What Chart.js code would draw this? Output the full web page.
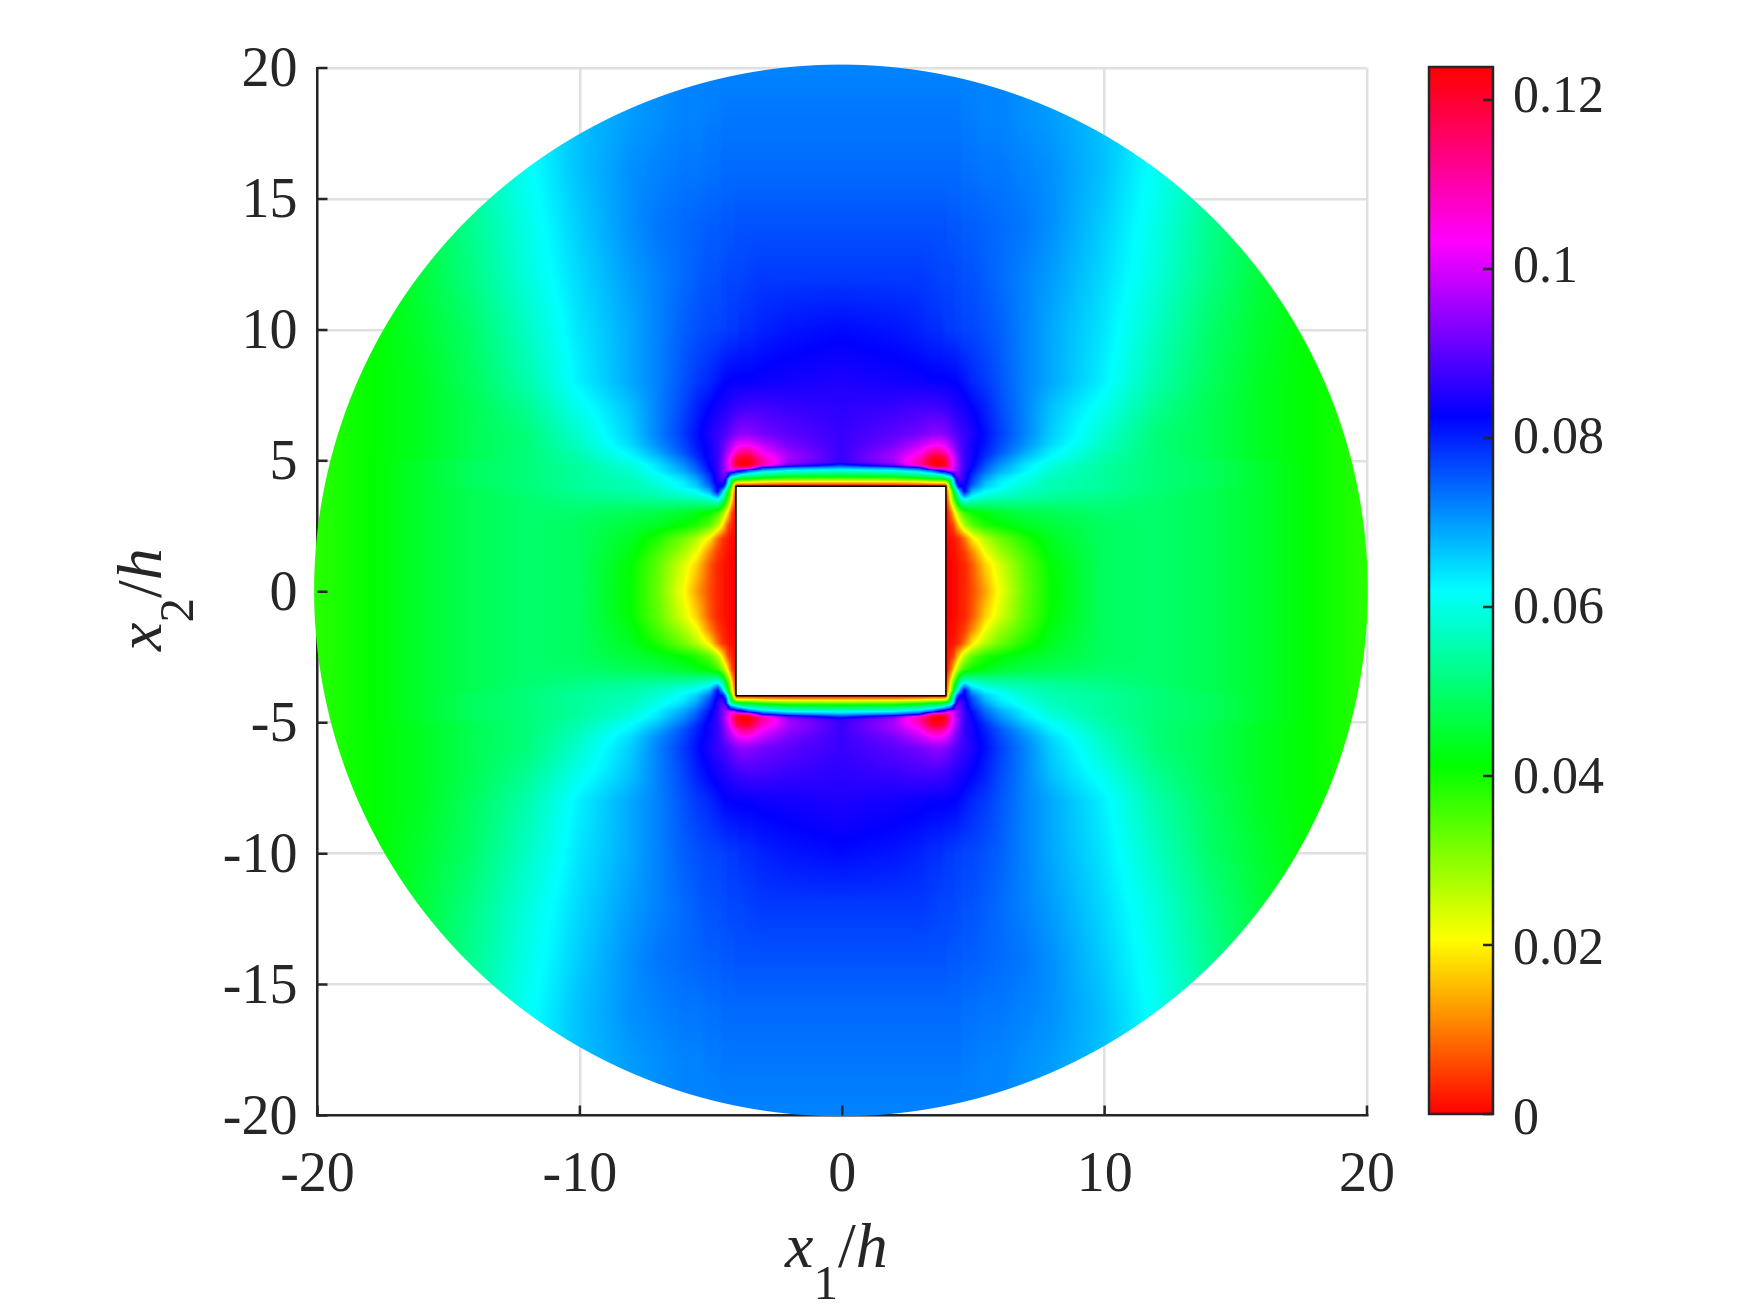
<!DOCTYPE html>
<html><head><meta charset="utf-8">
<script src="https://cdn.jsdelivr.net/npm/chart.js@4/dist/chart.umd.min.js"></script>
<style>
html,body{margin:0;padding:0;background:#fff;width:1750px;height:1313px;overflow:hidden}
canvas{position:absolute;top:0}
#main{left:0}#bar{left:1400px}
.lab{position:absolute;font-family:"Liberation Serif",serif;font-size:64px;color:#262626;white-space:nowrap;line-height:1}
.lab sub{font-style:normal;font-size:49px;vertical-align:-32px;line-height:0}
</style></head><body>
<canvas id="main" width="1750" height="1313"></canvas>
<canvas id="bar" width="350" height="1313"></canvas>
<div class="lab" id="xl" style="left:785px;top:1214px"><i>x</i><sub>1</sub>/<i>h</i></div>
<div class="lab" id="yl" style="left:108px;top:651px;transform-origin:0 0;transform:rotate(-90deg)"><i>x</i><sub>2</sub>/<i>h</i></div>
<script>
// Axis ticks
const xTicks=[-20,-10,0,10,20];
const yTicks=[-20,-15,-10,-5,0,5,10,15,20];
const barTicks=[0,0.02,0.04,0.06,0.08,0.1,0.12];
const barMax=0.1239;
// Square hole outline (x1/h, x2/h)
const holeX=[-4.05,3.95,3.95,-4.05,-4.05];
const holeY=[-3.97,-3.97,4.03,4.03,-3.97];
const HOLE_HALF=4, DISK_R=20.08;
// Field, one quadrant (x1>=0, x2>=0), the other three mirror it. Units 1e-3.
const xNodes=[0,2,3,3.5,3.8,4,4.1,4.2,4.3,4.4,4.5,4.7,5,5.5,6,7,8,10,12,14,16,18,20];
const yNodes=[0,1,1.5,2,2.5,3,3.5,3.8,4,4.1,4.2,4.3,4.4,4.5,4.6,4.7,4.8,4.9,5.1,5.3,5.6,6,7,8,10,12,14,16,18,20];
const _=null;
const fieldRows=[
[_,_,_,_,_,0,0,0,1,1,2,3,6,13,21,33,41,49,50,48,45,41,38],
[_,_,_,_,_,0,0,0,1,1,2,3,7,17,23.5,34,41.5,49,50,48,45,41,38],
[_,_,_,_,_,0,0,1,1,2,3,5,11,22,28,36,43,49,50,48,45,41,38],
[_,_,_,_,_,0,1,1,2,3,4,9,19,27,32,39,44,49,50,48,45,41,38],
[_,_,_,_,_,0,2,4,6,12,18,27,34,39,41,44,46,49,50,48,45,41,38],
[_,_,_,_,_,0,4,9,18,24,30,37,41,43,45,47,48,50,50,48,45,41,38],
[_,_,_,_,_,2,12,24,34,44,54,62,58,56,55,54,53,52,50,48,45,41,38],
[_,_,_,_,_,6,16,28,44,54,66,83,68,62,60,57,55,53,51,48,45,41,38],
[0,0,0,0,0,4,24,42,56,72,83,83,74,66,63,58,56,54,51,49,45,41,38],
[10,10,12,14,14,15,30,48,62,78,85,84,76,67,63,59,56,54,51,49,45,41,38],
[23,24,26,29,30,32,40,50,65,82,88,85,77,68,64,60,56,54,51,49,45,41,38],
[35,36,40,44,45,50,52,55,70,85,90,86,78,70,65,60,57,54,51,49,45,41,38],
[45,46,50,54,54,64,66,70,84,92,91,86,79,71,66,61,57,54,51,49,45,41,38],
[52,54,58,64,72,74,78,82,86,92,92,86,80,73,68,62,58,54,51,49,45,41,38],
[60,62,68,76,85,92,100,100,100,97,93,87,81.5,74,69,63,58,54,51,49,45,41,38],
[68,72,80,110,112,112,110,105,100,96,92,87,82,75,70,63.5,59,54,51,49,45,41,38],
[78,90,108,122,124,120,113,106,101,97,93,87,83,76,71,64,59,54,51,49,45,41,38],
[86,95,112,124,124,120,114,107,102,97,93,87,83,77,72,65,60,55,51,49,45,41,38],
[87,96,108,121,120,117,110,104,100,96,92,87,84,79,74,67,62,55,51,48,44,41,38],
[87,95,103,113,113,107,104,100,97,94,91,87,84,80,76,69,63,56,51,48,44,41,38],
[87,92,98,102,102,100,98,96,94,92,90,87,84,81,77,71,65,57,51,48,44,41,38],
[87,90,92,94,94,93,92,91,90,89,88,87,85,81.5,78,72,66,58,51,48,44,41,38],
[86,87,88,88,87.5,87,86.5,86,85.5,85,85,84,82.6,80,77,72,67,60.5,53,48,44,41,38],
[85,84,83.5,83,83,83,82.8,82.7,82.6,82.6,82,81,79.5,78,76,72,69,63,55,49,44,41,38],
[82,81,80,79,79,78,78,78,78,77.5,77.5,77,77,76,75,72,69,64,57,50,45,41,38],
[78,78,78,77.5,77,77,77,77,77,76.5,76.5,76,76,75,74,72,70,65,59,52,46,41,38],
[76,76,76,76,76,76,75.5,75.5,75.5,75.5,75.5,75,75,74.5,74,73,71,66,60,53,47,42,38],
[74,74,74,74,74,74,74,74,74,74,74,73.5,73.5,73,73,72,71,67,61,55,48,42,38],
[73,73,73,73,73,73,73,73,73,73,73,72.5,72.5,72,72,71,70,67,62,55,48,42,38],
[72,72,72,72,72,72,72,72,72,72,72,72,72,72,72,71,70,67,62,55,48,42,38]
];
const INK='#262626', GRID='#e0e0e0', FONT='"Liberation Serif",serif';

function hsv(t){
  const h=Math.min(Math.max(t,0),1)*6, i=Math.floor(h)%6, f=h-Math.floor(h);
  return [[1,f,0],[1-f,1,0],[0,1,f],[0,1-f,1],[f,0,1],[1,0,1-f]][i];
}
function locate(nodes,v){
  let i=0; while(i<nodes.length-2&&nodes[i+1]<=v)i++;
  return [i,Math.min(1,(v-nodes[i])/(nodes[i+1]-nodes[i]))];
}
function fieldAt(ax,ay){
  const [i,fx]=locate(xNodes,ax),[j,fy]=locate(yNodes,ay);
  const a=fieldRows[j][i],b=fieldRows[j][i+1],c=fieldRows[j+1][i],d=fieldRows[j+1][i+1];
  if(a===null||b===null||c===null||d===null){const p=[a,b,c,d].filter(q=>q!==null);return p.length?p.reduce((s,q)=>s+q,0)/p.length:0;}
  return (a*(1-fx)+b*fx)*(1-fy)+(c*(1-fx)+d*fx)*fy;
}
const fieldPlugin={id:'field',beforeDraw(chart){
  chart.scales.y.getLabelItems(chart.chartArea).forEach(it=>{if(!it.shifted){it.options.translation[1]+=3.5;it.shifted=true;}});
},beforeDatasetsDraw(chart){
  const sx=chart.scales.x,sy=chart.scales.y,ctx=chart.ctx;
  const x0=300,y0=50,w=1085,h=1082;
  const img=ctx.createImageData(w,h),dd=img.data;
  const cx=(holeX[0]+holeX[1])/2,cy=(holeY[0]+holeY[2])/2;
  const diskCx=-0.05,diskCy=0.05;
  const pxPerUnit=Math.abs(sx.getPixelForValue(1)-sx.getPixelForValue(0));
  for(let r=0;r<h;r++){
    const y=sy.getValueForPixel(y0+r+.5);
    for(let c=0;c<w;c++){
      const x=sx.getValueForPixel(x0+c+.5);
      const rad=Math.hypot(x-diskCx,y-diskCy);
      const a=Math.min(1,Math.max(0,(DISK_R-rad)*pxPerUnit+.5));
      if(a<=0)continue;
      const ax=Math.abs(x-cx),ay=Math.abs(y-cy);
      const k=(r*w+c)*4;
      if(ax<HOLE_HALF&&ay<HOLE_HALF){dd[k]=dd[k+1]=dd[k+2]=dd[k+3]=255;continue;}
      const col=hsv(fieldAt(Math.min(ax,20),Math.min(ay,20))/1000/barMax);
      dd[k]=col[0]*255;dd[k+1]=col[1]*255;dd[k+2]=col[2]*255;dd[k+3]=a*255;
    }
  }
  const off=document.createElement('canvas');off.width=w;off.height=h;
  off.getContext('2d').putImageData(img,0,0);
  ctx.drawImage(off,x0,y0);
},
afterDraw(chart){
  const sx=chart.scales.x,sy=chart.scales.y,ctx=chart.ctx,a=chart.chartArea;
  ctx.save();ctx.strokeStyle=INK;ctx.lineWidth=2.5;ctx.beginPath();
  xTicks.forEach(v=>{const p=sx.getPixelForValue(v);ctx.moveTo(p,a.bottom);ctx.lineTo(p,a.bottom-10);});
  yTicks.forEach(v=>{const p=sy.getPixelForValue(v);ctx.moveTo(a.left,p);ctx.lineTo(a.left+10,p);});
  ctx.stroke();ctx.restore();
}};
new Chart(document.getElementById('main'),{
  type:'scatter',
  data:{datasets:[{label:'hole',data:holeX.map((x,i)=>({x,y:holeY[i]})),showLine:true,borderColor:'#000',borderWidth:1.5,pointRadius:0,tension:0,clip:false}]},
  options:{responsive:false,animation:false,devicePixelRatio:1,
    layout:{padding:{left:0,right:383,top:68,bottom:0}},
    plugins:{legend:{display:false},tooltip:{enabled:false}},
    scales:{
      x:{type:'linear',min:-20,max:20,afterBuildTicks:s=>{s.ticks=xTicks.map(value=>({value}));},afterFit:s=>{s.height=1313-1115.5;},
        grid:{color:GRID,lineWidth:2.5,drawTicks:false},border:{color:INK,width:2.5},
        ticks:{color:INK,font:{family:FONT,size:56},padding:27,maxRotation:0,autoSkip:false}},
      y:{type:'linear',min:-20,max:20,afterBuildTicks:s=>{s.ticks=yTicks.map(value=>({value}));},afterFit:s=>{s.width=317.5;},
        grid:{color:GRID,lineWidth:2.5,drawTicks:false},border:{color:INK,width:2.5},
        ticks:{color:INK,font:{family:FONT,size:56},padding:20,autoSkip:false}}
    }},
  plugins:[fieldPlugin]
});
// Colour bar
const barPlugin={id:'barFrame',beforeDraw(chart){
  chart.scales.y.getLabelItems(chart.chartArea).forEach((it,i)=>{if(!it.shifted){it.options.translation[1]+=6.5-i*4/3;it.shifted=true;}});
},afterDraw(chart){
  const sy=chart.scales.y,ctx=chart.ctx,a=chart.chartArea;
  ctx.save();ctx.strokeStyle=INK;ctx.lineWidth=2.5;ctx.strokeRect(a.left,a.top,a.right-a.left,a.bottom-a.top);
  ctx.beginPath();barTicks.forEach(v=>{const p=sy.getPixelForValue(v);ctx.moveTo(a.right,p);ctx.lineTo(a.right-10,p);});ctx.stroke();ctx.restore();
}};
new Chart(document.getElementById('bar'),{
  type:'bar',
  data:{labels:['colour'],datasets:[{data:[[0,barMax]],barPercentage:1,categoryPercentage:1,borderWidth:0,
    backgroundColor(c){
      const a=c.chart.chartArea; if(!a)return '#f00';
      const g=c.chart.ctx.createLinearGradient(0,a.bottom,0,a.top);
      for(let i=0;i<=60;i++){const q=hsv(i/60);g.addColorStop(i/60,`rgb(${q[0]*255},${q[1]*255},${q[2]*255})`);}
      return g;
    }}]},
  options:{responsive:false,animation:false,devicePixelRatio:1,
    layout:{padding:{left:29,right:0,top:67,bottom:1313-1114}},
    plugins:{legend:{display:false},tooltip:{enabled:false}},
    scales:{
      x:{display:false},
      y:{position:'right',min:0,max:barMax,afterBuildTicks:s=>{s.ticks=barTicks.map(value=>({value}));},afterFit:s=>{s.width=350-93;},
        grid:{display:false,drawTicks:false},border:{display:false},
        ticks:{color:INK,font:{family:FONT,size:52},padding:20,autoSkip:false,callback:v=>String(v)}}
    }},
  plugins:[barPlugin]
});
</script></body></html>
